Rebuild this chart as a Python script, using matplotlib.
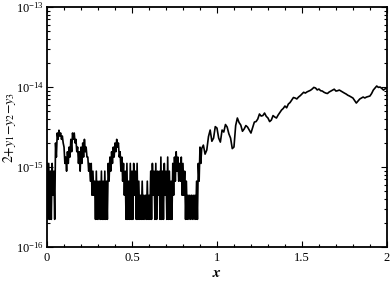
import numpy as np
import matplotlib
matplotlib.use("Agg")
import matplotlib.pyplot as plt
from matplotlib.ticker import LogLocator, MultipleLocator, LogFormatterMathtext

plt.rcParams["font.family"] = ["Liberation Serif", "DejaVu Serif"]
plt.rcParams["mathtext.fontset"] = "stix"

EPS = 2.22e-16

# left part (x = 0 .. 0.90): error is a few machine epsilons, noisy.
# upper / lower level of the noise in each 0.01 interval, in units of EPS
k_hi = [5, 5, 4, 5, 4, 9, 12, 13, 12, 11,
        8, 6, 7, 8, 10, 12, 12, 10, 8, 7,
        8, 9, 10, 8, 6, 5, 5, 4, 3, 4,
        3, 3, 4, 3, 4, 3, 5, 6, 7, 8,
        9, 10, 9, 7, 6, 5, 4, 5, 3, 5,
        4, 5, 4, 5, 3, 2, 3, 2, 2, 3,
        2, 4, 5, 4, 5, 4, 4, 6, 4, 5,
        4, 6, 4, 3, 5, 6, 7, 6, 5, 6,
        5, 4, 3, 2, 2, 2, 2, 2, 3, 5,
        8]
k_lo = [1, 1, 1, 2, 1, 6, 10, 11, 10, 9,
        5, 4, 5, 6, 7, 10, 9, 7, 5, 4,
        5, 6, 7, 6, 4, 3, 2, 2, 1, 1,
        1, 1, 1, 1, 1, 1, 3, 4, 5, 6,
        7, 8, 6, 4, 3, 2, 1, 1, 1, 1,
        1, 2, 1, 1, 1, 1, 1, 1, 1, 1,
        1, 1, 2, 1, 1, 2, 1, 1, 1, 2,
        1, 1, 1, 1, 2, 3, 4, 3, 3, 2,
        2, 1, 1, 1, 1, 1, 1, 1, 1, 3,
        5]

# right part (x = 0.91 .. 2.00), values in units of 1e-15
y_right = [1.70, 1.88, 1.45, 1.63, 2.40, 2.90, 2.10, 2.30, 3.20, 3.07,
           2.30, 2.05, 2.90, 2.74, 3.40, 3.16, 2.60, 2.30, 1.70, 1.78,
           3.30, 4.10, 3.60, 3.35, 2.80, 2.99, 3.30, 3.16, 2.90, 2.66,
           3.10, 3.65, 3.70, 3.98, 4.60, 4.34, 4.40, 4.73, 4.30, 4.10,
           3.70, 3.87, 4.40, 4.22, 4.10, 4.47, 4.80, 5.16, 5.40, 5.79,
           5.50, 6.13, 6.40, 6.88, 7.40, 7.29, 7.10, 7.50, 7.80, 8.18,
           8.60, 8.41, 8.70, 8.91, 9.10, 9.44, 9.90, 9.72, 9.20, 9.44,
           9.00, 8.91, 8.60, 8.41, 8.30, 8.66, 8.90, 9.17, 9.40, 8.91,
           9.00, 9.17, 8.90, 8.66, 8.40, 8.18, 7.90, 7.72, 7.50, 7.29,
           6.80, 6.31, 6.70, 7.08, 7.30, 7.50, 7.30, 7.50, 7.60, 7.72,
           8.30, 9.17, 9.70, 10.3, 9.90, 10.0, 9.60, 9.17, 9.50, 9.72]

# interleave upper and lower levels (half-step apart)
x_left, k_left = [], []
for i, (hi, lo) in enumerate(zip(k_hi, k_lo)):
    x_left += [0.01 * i, 0.01 * i + 0.005]
    k_left += [hi, lo]
x_right = [0.91 + 0.01 * i for i in range(len(y_right))]

x = np.array(x_left + x_right)
y = np.concatenate([np.array(k_left) * EPS, np.array(y_right) * 1e-15])

fig = plt.figure(figsize=(3.92, 2.82), dpi=100)
ax = fig.add_axes([0.12, 0.124, 0.867, 0.851])
ax.plot(x, y, color="black", lw=1.2)

ax.set_yscale("log")
ax.set_xlim(0, 2)
ax.set_ylim(1e-16, 1e-13)
ax.set_xticks([0, 0.5, 1, 1.5, 2])
ax.set_xticklabels(["0", "0.5", "1", "1.5", "2"])
ax.xaxis.set_minor_locator(MultipleLocator(0.1))
ax.yaxis.set_major_locator(LogLocator(base=10, numticks=10))
ax.yaxis.set_minor_locator(LogLocator(base=10, subs=np.arange(2, 10), numticks=10))
ax.yaxis.set_major_formatter(LogFormatterMathtext())

ax.tick_params(which="both", direction="in", top=True, right=True, labelsize=9, width=0.8)
ax.tick_params(axis="y", pad=2)
ax.tick_params(which="major", length=4)
ax.tick_params(which="minor", length=2)
for s in ax.spines.values():
    s.set_linewidth(1.3)

ax.set_xlabel(r"$\boldsymbol{x}$", fontsize=11)
ax.set_ylabel(r"$2{+}y_1{-}y_2{-}y_3$", fontsize=10)
ax.xaxis.set_label_coords(0.5, -0.085)
ax.yaxis.set_label_coords(-0.085, 0.5)

fig.savefig("out.png", dpi=100)
